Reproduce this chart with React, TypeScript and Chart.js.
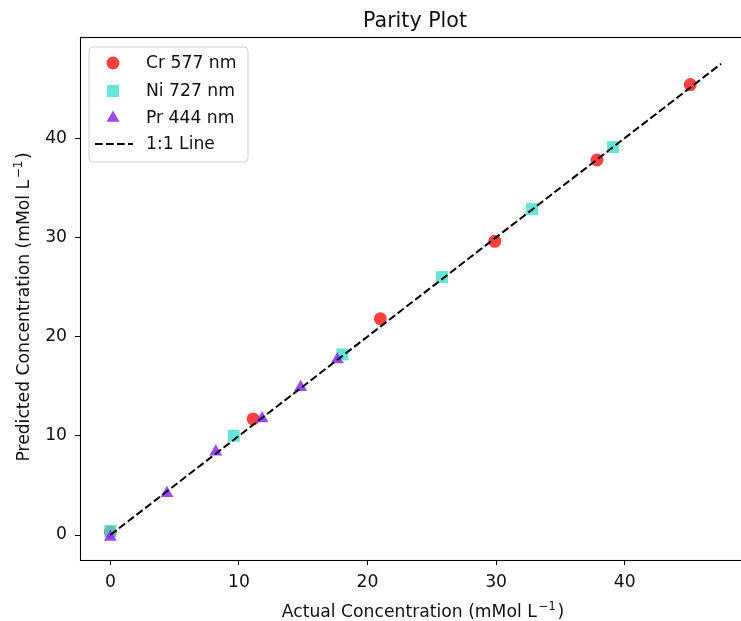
import React, { useEffect, useRef } from "react";
import { Chart, registerables } from "chart.js";

Chart.register(...registerables);

// ---- data ----
const crActual = [0, 11.1, 21.0, 29.9, 37.85, 45.1];
const crPred = [0.3, 11.7, 21.8, 29.6, 37.8, 45.4];
const niActual = [0, 9.6, 18.05, 25.8, 32.8, 39.1];
const niPred = [0.4, 10.0, 18.2, 26.0, 32.85, 39.1];
const prActual = [0, 4.4, 8.2, 11.8, 14.8, 17.65];
const prPred = [-0.2, 4.2, 8.4, 11.75, 14.9, 17.7];
const lineX = [0, 47.5];
const tickValues = [0, 10, 20, 30, 40];
const seriesLabels = ["Cr 577 nm", "Ni 727 nm", "Pr 444 nm", "1:1 Line"];
const titleText = "Parity Plot";
const xTitleParts = ["Actual Concentration (mMol L", "\u22121", ")"];
const yTitleParts = ["Predicted Concentration (mMol L", "\u22121", ")"];

const FONT = "'DejaVu Sans', sans-serif";
const FS = 17.2;
const RED = "rgba(255,0,0,0.75)";
const TEAL = "rgba(64,224,208,0.8)";
const PURPLE = "rgba(140,40,245,0.85)";

function drawMarker(ctx: CanvasRenderingContext2D, style: string, x: number, y: number, r: number, color: string) {
  ctx.save();
  ctx.fillStyle = color;
  ctx.beginPath();
  if (style === "circle") {
    ctx.arc(x, y, r, 0, Math.PI * 2);
  } else if (style === "rect") {
    const s = r * Math.SQRT1_2;
    ctx.rect(x - s, y - s, 2 * s, 2 * s);
  } else if (style === "triangle") {
    let rad = 0;
    ctx.moveTo(x + Math.sin(rad) * r, y - Math.cos(rad) * r);
    rad += (2 * Math.PI) / 3;
    ctx.lineTo(x + Math.sin(rad) * r, y - Math.cos(rad) * r);
    rad += (2 * Math.PI) / 3;
    ctx.lineTo(x + Math.sin(rad) * r, y - Math.cos(rad) * r);
    ctx.closePath();
  }
  ctx.fill();
  ctx.restore();
}

function drawSupText(ctx: CanvasRenderingContext2D, parts: string[], cx: number, baseY: number, size: number) {
  const big = `${size}px ${FONT}`;
  const small = `${size * 0.7}px ${FONT}`;
  ctx.font = big;
  const w1 = ctx.measureText(parts[0]).width;
  const w3 = ctx.measureText(parts[2]).width;
  ctx.font = small;
  const w2 = ctx.measureText(parts[1]).width;
  const total = w1 + w2 + w3 + 3;
  let x = cx - total / 2;
  ctx.textAlign = "left";
  ctx.textBaseline = "alphabetic";
  ctx.font = big;
  ctx.fillText(parts[0], x, baseY);
  x += w1 + 1.5;
  ctx.font = small;
  ctx.fillText(parts[1], x, baseY - size * 0.42);
  x += w2 + 1.5;
  ctx.font = big;
  ctx.fillText(parts[2], x, baseY);
}

const decorPlugin = {
  id: "decor",
  afterDatasetsDraw(chart: any) {
    const ctx: CanvasRenderingContext2D = chart.ctx;
    const a = chart.chartArea;
    ctx.save();
    // spines
    ctx.strokeStyle = "#000";
    ctx.lineWidth = 1.1;
    ctx.strokeRect(Math.round(a.left) + 0.5, Math.round(a.top) + 0.5, Math.round(a.right - a.left), Math.round(a.bottom - a.top));

    // legend
    const lx = 89, ly = 47, lw = 159, lh = 115, rr = 4;
    ctx.beginPath();
    ctx.moveTo(lx + rr, ly);
    ctx.lineTo(lx + lw - rr, ly);
    ctx.quadraticCurveTo(lx + lw, ly, lx + lw, ly + rr);
    ctx.lineTo(lx + lw, ly + lh - rr);
    ctx.quadraticCurveTo(lx + lw, ly + lh, lx + lw - rr, ly + lh);
    ctx.lineTo(lx + rr, ly + lh);
    ctx.quadraticCurveTo(lx, ly + lh, lx, ly + lh - rr);
    ctx.lineTo(lx, ly + rr);
    ctx.quadraticCurveTo(lx, ly, lx + rr, ly);
    ctx.closePath();
    ctx.fillStyle = "rgba(255,255,255,0.8)";
    ctx.fill();
    ctx.strokeStyle = "#d0d0d0";
    ctx.lineWidth = 1;
    ctx.stroke();

    const ds = chart.data.datasets;
    const rows = [63, 91, 118, 144];
    const order = [1, 2, 3, 0];
    ctx.font = `${FS}px ${FONT}`;
    ctx.textBaseline = "middle";
    ctx.textAlign = "left";
    order.forEach((di, i) => {
      const d = ds[di];
      const y = rows[i];
      if (d.type === "line") {
        ctx.save();
        ctx.strokeStyle = d.borderColor;
        ctx.lineWidth = d.borderWidth;
        ctx.setLineDash(d.borderDash);
        ctx.beginPath();
        ctx.moveTo(95, y);
        ctx.lineTo(133, y);
        ctx.stroke();
        ctx.restore();
      } else {
        drawMarker(ctx, d.pointStyle, 113, y, d.pointRadius, d.backgroundColor);
      }
      ctx.fillStyle = "#111";
      ctx.fillText(d.label, 146, y + 1);
    });

    // title
    ctx.fillStyle = "#111";
    ctx.textAlign = "center";
    ctx.textBaseline = "alphabetic";
    ctx.font = `20.6px ${FONT}`;
    ctx.fillText(titleText, 415, 27);

    // x title
    drawSupText(ctx, xTitleParts, 423, 617, FS);

    // y title
    ctx.save();
    ctx.translate(29, 307);
    ctx.rotate(-Math.PI / 2);
    drawSupText(ctx, yTitleParts, 0, 0, FS);
    ctx.restore();
    ctx.restore();
  },
};

export default function App() {
  const ref = useRef<HTMLCanvasElement>(null);
  useEffect(() => {
    if (!ref.current) return;
    const toPts = (xs: number[], ys: number[]) => xs.map((x, i) => ({ x, y: ys[i] }));
    const chart = new Chart(ref.current, {
      type: "scatter",
      data: {
        datasets: [
          {
            type: "line",
            label: seriesLabels[3],
            data: toPts(lineX, lineX),
            borderColor: "#000",
            borderWidth: 2,
            borderDash: [7.7, 3.3],
            pointRadius: 0,
            fill: false,
            order: 0,
          } as any,
          {
            label: seriesLabels[0],
            data: toPts(crActual, crPred),
            backgroundColor: RED,
            borderWidth: 0,
            pointStyle: "circle",
            pointRadius: 6.5,
            order: 3,
          },
          {
            label: seriesLabels[1],
            data: toPts(niActual, niPred),
            backgroundColor: TEAL,
            borderWidth: 0,
            pointStyle: "rect",
            pointRadius: 8.5,
            order: 2,
          },
          {
            label: seriesLabels[2],
            data: toPts(prActual, prPred),
            backgroundColor: PURPLE,
            borderWidth: 0,
            pointStyle: "triangle",
            pointRadius: 7.5,
            order: 1,
          },
        ],
      },
      options: {
        animation: false,
        responsive: false,
        layout: { padding: { top: 37, right: 10, left: 0, bottom: 0 } },
        plugins: { legend: { display: false }, title: { display: false }, tooltip: { enabled: false } },
        scales: {
          x: {
            type: "linear",
            min: -2.36,
            max: 49.75,
            border: { display: false },
            grid: { drawOnChartArea: false, drawTicks: true, tickLength: 5, color: "#000", lineWidth: 1 },
            ticks: { font: { family: FONT, size: FS }, color: "#111", padding: 7, maxRotation: 0 },
            afterBuildTicks: (s: any) => { s.ticks = tickValues.map((v) => ({ value: v })); },
            afterFit: (s: any) => { s.height = 61; },
          },
          y: {
            type: "linear",
            min: -2.52,
            max: 50.2,
            border: { display: false },
            grid: { drawOnChartArea: false, drawTicks: true, tickLength: 5, color: "#000", lineWidth: 1 },
            ticks: { font: { family: FONT, size: FS }, color: "#111", padding: 8 },
            afterBuildTicks: (s: any) => { s.ticks = tickValues.map((v) => ({ value: v })); },
            afterFit: (s: any) => { s.width = 80; },
          },
        },
      } as any,
      plugins: [decorPlugin],
    });
    return () => chart.destroy();
  }, []);
  return (
    <div style={{ position: "fixed", left: 0, top: 0, width: 741, height: 621, overflow: "hidden", background: "#fff" }}>
      <canvas ref={ref} width={760} height={621} style={{ width: 760, height: 621, display: "block" }} />
    </div>
  );
}
